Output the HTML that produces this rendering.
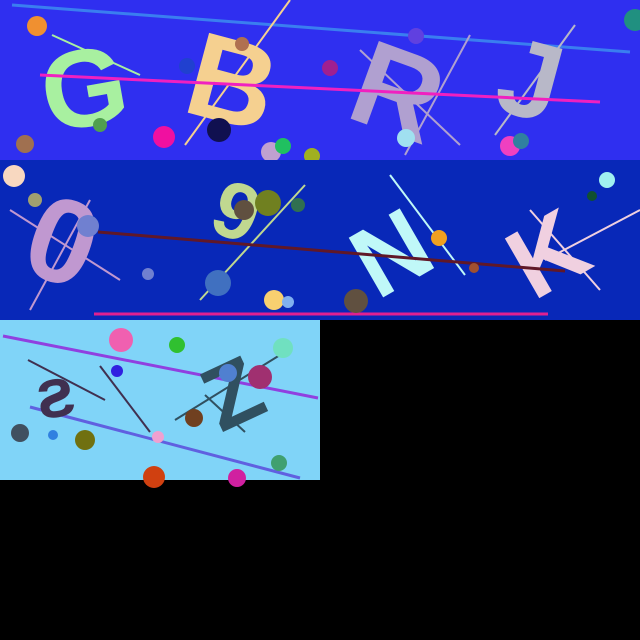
<!DOCTYPE html>
<html><head><meta charset="utf-8"><style>
html,body{margin:0;padding:0;background:#000;width:640px;height:640px;overflow:hidden}
svg{display:block}
text{font-family:"Liberation Sans",sans-serif;font-weight:bold}
</style></head><body>
<svg width="640" height="640" viewBox="0 0 640 640">
<rect width="640" height="640" fill="#000"/>
<g>
<rect x="0" y="0" width="640" height="160" fill="#2f2ff0"/>
<line x1="12" y1="5" x2="630" y2="52" stroke="#3a7ef0" stroke-width="3"/>
<text x="40" y="125" font-size="110" fill="#a8f0a0" transform="rotate(-10 90 80)">G</text>
<text x="190" y="125" font-size="120" fill="#f5d090" transform="rotate(15 240 80)">B</text>
<text x="360" y="140" font-size="120" fill="#b0a0d0" transform="rotate(20 420 80)">R</text>
<text x="500" y="120" font-size="110" fill="#b8b8c8" transform="rotate(15 540 80)">J</text>
<line x1="52" y1="35" x2="140" y2="75" stroke="#a8f0a0" stroke-width="2"/>
<line x1="185" y1="145" x2="290" y2="0" stroke="#f5d090" stroke-width="2"/>
<line x1="360" y1="50" x2="460" y2="145" stroke="#b0a0d0" stroke-width="2"/>
<line x1="405" y1="155" x2="470" y2="35" stroke="#b0a0d0" stroke-width="2"/>
<line x1="495" y1="135" x2="575" y2="25" stroke="#b8b8c8" stroke-width="2"/>
<line x1="40" y1="75" x2="600" y2="102" stroke="#f020c0" stroke-width="3"/>
<circle cx="37" cy="26" r="10" fill="#f09030"/>
<circle cx="25" cy="144" r="9" fill="#a07050"/>
<circle cx="100" cy="125" r="7" fill="#50a050"/>
<circle cx="164" cy="137" r="11" fill="#f010a0"/>
<circle cx="187" cy="66" r="8" fill="#2040d0"/>
<circle cx="219" cy="130" r="12" fill="#101050"/>
<circle cx="242" cy="44" r="7" fill="#b07050"/>
<circle cx="271" cy="152" r="10" fill="#c0a0d0"/>
<circle cx="283" cy="146" r="8" fill="#20c060"/>
<circle cx="312" cy="156" r="8" fill="#a0b020"/>
<circle cx="330" cy="68" r="8" fill="#a02090"/>
<circle cx="416" cy="36" r="8" fill="#6040e0"/>
<circle cx="406" cy="138" r="9" fill="#a0e0f0"/>
<circle cx="510" cy="146" r="10" fill="#f040c0"/>
<circle cx="521" cy="141" r="8" fill="#3080a0"/>
<circle cx="635" cy="20" r="11" fill="#209080"/>
</g>
<g>
<rect x="0" y="160" width="640" height="160" fill="#0828b8"/>
<text x="30" y="285" font-size="120" fill="#c098d0" transform="rotate(20 70 240)">0</text>
<text x="215" y="240" font-size="80" fill="#c0d890" transform="rotate(20 240 210)">9</text>
<text x="345" y="280" font-size="100" fill="#c0f8f8" transform="rotate(-30 400 230)">N</text>
<text x="505" y="285" font-size="100" fill="#f0d0e0" transform="rotate(-30 550 240)">K</text>
<line x1="10" y1="210" x2="120" y2="280" stroke="#c098d0" stroke-width="2"/>
<line x1="30" y1="310" x2="90" y2="200" stroke="#c098d0" stroke-width="2"/>
<line x1="200" y1="300" x2="305" y2="185" stroke="#c0d890" stroke-width="2"/>
<line x1="390" y1="175" x2="465" y2="275" stroke="#c0f8f8" stroke-width="2"/>
<line x1="530" y1="210" x2="600" y2="290" stroke="#f0d0e0" stroke-width="2"/>
<line x1="545" y1="260" x2="640" y2="210" stroke="#f0d0e0" stroke-width="2"/>
<line x1="98" y1="232" x2="565" y2="271" stroke="#601828" stroke-width="3"/>
<line x1="94" y1="314" x2="548" y2="314" stroke="#e02090" stroke-width="3"/>
<circle cx="14" cy="176" r="11" fill="#f8d8c0"/>
<circle cx="35" cy="200" r="7" fill="#a0a070"/>
<circle cx="88" cy="226" r="11" fill="#7080d0"/>
<circle cx="148" cy="274" r="6" fill="#7080d0"/>
<circle cx="218" cy="283" r="13" fill="#4070c0"/>
<circle cx="244" cy="210" r="10" fill="#605040"/>
<circle cx="268" cy="203" r="13" fill="#708020"/>
<circle cx="298" cy="205" r="7" fill="#307050"/>
<circle cx="274" cy="300" r="10" fill="#f8d070"/>
<circle cx="288" cy="302" r="6" fill="#80b0f0"/>
<circle cx="356" cy="301" r="12" fill="#605040"/>
<circle cx="439" cy="238" r="8" fill="#f0a020"/>
<circle cx="474" cy="268" r="5" fill="#a05030"/>
<circle cx="592" cy="196" r="5" fill="#105030"/>
<circle cx="607" cy="180" r="8" fill="#a0f0f0"/>
</g>
<g>
<rect x="0" y="320" width="320" height="160" fill="#80d4f8"/>
<line x1="3" y1="336" x2="318" y2="398" stroke="#9040e0" stroke-width="3"/>
<line x1="30" y1="407" x2="300" y2="478" stroke="#6060e0" stroke-width="3"/>
<text x="35" y="415" font-size="70" fill="#403050" transform="rotate(-10 65 390)">ƨ</text>
<text x="200" y="420" font-size="90" fill="#305060" transform="rotate(-25 240 380)">Z</text>
<line x1="28" y1="360" x2="105" y2="400" stroke="#403050" stroke-width="2"/>
<line x1="100" y1="366" x2="150" y2="432" stroke="#403050" stroke-width="2"/>
<line x1="175" y1="420" x2="280" y2="355" stroke="#305060" stroke-width="2"/>
<line x1="205" y1="395" x2="245" y2="432" stroke="#305060" stroke-width="2"/>
<circle cx="121" cy="340" r="12" fill="#f060b0"/>
<circle cx="177" cy="345" r="8" fill="#30c030"/>
<circle cx="117" cy="371" r="6" fill="#3020e0"/>
<circle cx="283" cy="348" r="10" fill="#70e0c0"/>
<circle cx="228" cy="373" r="9" fill="#5080d0"/>
<circle cx="260" cy="377" r="12" fill="#a03070"/>
<circle cx="20" cy="433" r="9" fill="#405060"/>
<circle cx="53" cy="435" r="5" fill="#3080e0"/>
<circle cx="85" cy="440" r="10" fill="#707010"/>
<circle cx="158" cy="437" r="6" fill="#f0a0d0"/>
<circle cx="194" cy="418" r="9" fill="#704020"/>
<circle cx="154" cy="477" r="11" fill="#d04010"/>
<circle cx="237" cy="478" r="9" fill="#d020a0"/>
<circle cx="279" cy="463" r="8" fill="#40a070"/>
</g>
</svg>
</body></html>
